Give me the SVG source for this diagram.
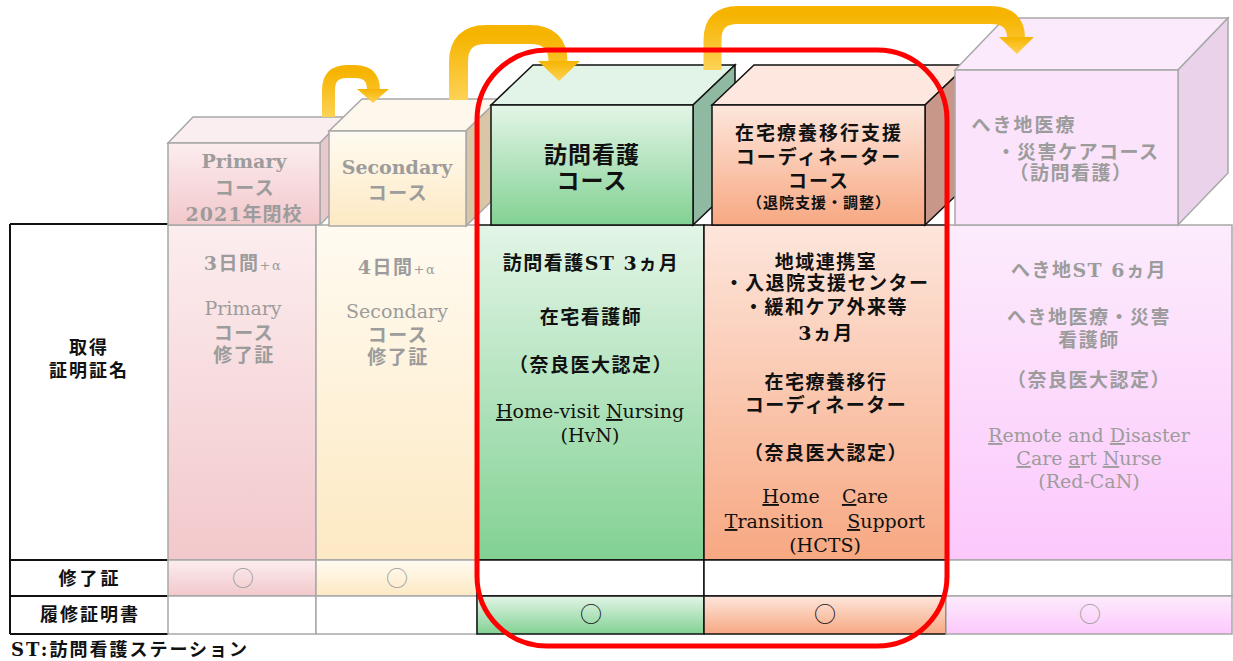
<svg xmlns="http://www.w3.org/2000/svg" width="1233" height="661" viewBox="0 0 1233 661">
<defs>
<linearGradient id="gPink" x1="0" y1="0" x2="0" y2="1"><stop offset="0" stop-color="#fcedef"/><stop offset="1" stop-color="#f2c8cb"/></linearGradient>
<linearGradient id="gCream" x1="0" y1="0" x2="0" y2="1"><stop offset="0" stop-color="#fffbf1"/><stop offset="1" stop-color="#fde9c3"/></linearGradient>
<linearGradient id="gGreen" x1="0" y1="0" x2="0" y2="1"><stop offset="0" stop-color="#e3f5e7"/><stop offset="1" stop-color="#82d193"/></linearGradient>
<linearGradient id="gOrange" x1="0" y1="0" x2="0" y2="1"><stop offset="0" stop-color="#fde6dc"/><stop offset="1" stop-color="#f7a882"/></linearGradient>
<linearGradient id="gMag" x1="0" y1="0" x2="0" y2="1"><stop offset="0" stop-color="#fcecfc"/><stop offset="1" stop-color="#fcc8fc"/></linearGradient>
<linearGradient id="gArrow" x1="0" y1="0" x2="0" y2="1"><stop offset="0" stop-color="#f6b400"/><stop offset="1" stop-color="#fdd255"/></linearGradient>
<style>
text{font-family:"DejaVu Serif","Noto Sans CJK JP",serif;text-anchor:middle}
.jp{font-family:"Noto Sans CJK JP",sans-serif;font-weight:700}
.mix{font-family:"DejaVu Serif","Noto Sans CJK JP",serif;font-weight:700}
.lat{font-family:"DejaVu Serif",serif;font-weight:400;letter-spacing:0}
.gry{fill:#9c9c9c}
.blk{fill:#111}
.b19{font-size:19px;letter-spacing:1.5px}
.ul{text-decoration:underline}
.circ{font-family:"Noto Sans CJK JP",sans-serif;font-size:22px;font-weight:400}
.gs{stroke:#a8a8a8;stroke-width:1.5}
.ks{stroke:#111;stroke-width:1.5}
.arrow{fill:none;stroke:url(#gArrow);stroke-linejoin:round}
</style>
</defs>
<rect width="1233" height="661" fill="#fff"/>

<g id="label-col">
<rect x="10" y="224" width="158" height="410" fill="#fff"/>
<path d="M10,224 H168 M10,224 V634 M10,560 H168 M10,596 H168 M10,634 H168" stroke="#111" stroke-width="2" fill="none"/>
<text class="jp blk" font-size="18" letter-spacing="2"><tspan x="89" y="354">取得</tspan><tspan x="89" y="377">証明証名</tspan></text>
<text class="jp blk" font-size="18" letter-spacing="3" x="90" y="585">修了証</text>
<text class="jp blk" font-size="18" letter-spacing="2" x="90" y="621">履修証明書</text>
</g>

<g id="col-primary">
<rect x="168" y="225" width="148" height="335" fill="url(#gPink)" class="gs"/>
<rect x="168" y="560" width="148" height="36" fill="url(#gPink)" class="gs"/>
<rect x="168" y="596" width="148" height="38" fill="#fff" class="gs"/>
<polygon points="168,143 193,117 345,117 320,143" fill="#fbeef0" class="gs"/>
<polygon points="320,143 345,117 345,199 320,225" fill="#e9c9cc" class="gs"/>
<rect x="168" y="143" width="152" height="82" fill="url(#gPink)" class="gs"/>
<text class="mix gry" font-size="19"><tspan x="244" y="168">Primary</tspan><tspan x="245" y="195" letter-spacing="1.5">コース</tspan><tspan x="244" y="221" letter-spacing="1">2021年閉校</tspan></text>
<text class="mix gry b19" x="243" y="270">3日間<tspan font-size="13" font-weight="400">+α</tspan></text>
<text class="jp gry b19"><tspan class="lat" x="243" y="315">Primary</tspan><tspan x="244" y="340">コース</tspan><tspan x="244" y="362">修了証</tspan></text>
<text class="circ gry" x="243" y="586">○</text>
</g>

<g id="col-secondary">
<rect x="316" y="225" width="161" height="335" fill="url(#gCream)" class="gs"/>
<rect x="316" y="560" width="161" height="36" fill="url(#gCream)" class="gs"/>
<rect x="316" y="596" width="161" height="38" fill="#fff" class="gs"/>
<polygon points="329,131 362,99 499,99 466,131" fill="#fef8ec" class="gs"/>
<polygon points="466,131 499,99 499,194 466,226" fill="#d8c6a6" class="gs"/>
<rect x="329" y="131" width="137" height="95" fill="url(#gCream)" class="gs"/>
<text class="mix gry" font-size="19"><tspan x="397" y="174">Secondary</tspan><tspan x="398" y="200" letter-spacing="1.5">コース</tspan></text>
<text class="mix gry b19" x="397" y="274">4日間<tspan font-size="13" font-weight="400">+α</tspan></text>
<text class="jp gry b19"><tspan class="lat" x="397" y="318">Secondary</tspan><tspan x="398" y="342">コース</tspan><tspan x="398" y="364">修了証</tspan></text>
<text class="circ gry" x="397" y="586">○</text>
</g>

<g id="col-homevisit">
<rect x="477" y="225" width="227" height="335" fill="url(#gGreen)" class="ks"/>
<rect x="477" y="560" width="227" height="36" fill="#fff" class="ks"/>
<rect x="477" y="596" width="227" height="38" fill="url(#gGreen)" class="ks"/>
<polygon points="491,105 533,65 735,65 693,105" fill="#e2f4e7" class="ks"/>
<polygon points="693,105 735,65 735,185 693,225" fill="#8fb9a0" class="ks"/>
<rect x="491" y="105" width="202" height="120" fill="url(#gGreen)" class="ks"/>
<text class="jp blk" font-size="23" letter-spacing="1"><tspan x="592" y="163">訪問看護</tspan><tspan x="592" y="189">コース</tspan></text>
<text class="mix blk b19" x="591" y="270">訪問看護ST 3ヵ月</text>
<text class="jp blk b19" x="591" y="324">在宅看護師</text>
<text class="jp blk b19" x="591" y="372">（奈良医大認定）</text>
<text class="lat blk" font-size="19"><tspan x="590" y="418"><tspan class="ul">H</tspan>ome-visit <tspan class="ul">N</tspan>ursing</tspan><tspan x="590" y="442">(HvN)</tspan></text>
<text class="circ blk" x="591" y="622">○</text>
</g>

<g id="col-transition">
<rect x="704" y="225" width="242" height="335" fill="url(#gOrange)" class="ks"/>
<rect x="704" y="560" width="242" height="36" fill="#fff" class="ks"/>
<rect x="704" y="596" width="242" height="38" fill="url(#gOrange)" class="ks"/>
<polygon points="712,105 754,65 967,65 925,105" fill="#fde7de" class="ks"/>
<polygon points="925,105 967,65 967,185 925,225" fill="#c9968a" class="ks"/>
<rect x="712" y="105" width="213" height="120" fill="url(#gOrange)" class="ks"/>
<text class="jp blk" font-size="19" letter-spacing="2"><tspan x="819" y="140">在宅療養移行支援</tspan><tspan x="819" y="164">コーディネーター</tspan><tspan x="819" y="188">コース</tspan><tspan x="819" y="208" font-size="15" letter-spacing="1">（退院支援・調整）</tspan></text>
<text class="jp blk b19"><tspan x="826" y="269">地域連携室</tspan><tspan x="827" y="290">・入退院支援センター</tspan><tspan x="826" y="314">・緩和ケア外来等</tspan><tspan class="mix" x="826" y="340">3ヵ月</tspan></text>
<text class="jp blk b19"><tspan x="826" y="389">在宅療養移行</tspan><tspan x="826" y="412">コーディネーター</tspan></text>
<text class="jp blk b19" x="826" y="460">（奈良医大認定）</text>
<text class="lat blk" font-size="19"><tspan x="791" y="503"><tspan class="ul">H</tspan>ome</tspan><tspan x="865" y="503"><tspan class="ul">C</tspan>are</tspan><tspan x="774" y="528"><tspan class="ul">T</tspan>ransition</tspan><tspan x="886" y="528"><tspan class="ul">S</tspan>upport</tspan><tspan x="825" y="552">(HCTS)</tspan></text>
<text class="circ blk" x="825" y="622">○</text>
</g>

<g id="col-remote">
<rect x="946" y="225" width="286" height="335" fill="url(#gMag)" class="gs"/>
<rect x="946" y="560" width="286" height="36" fill="#fff" class="gs"/>
<rect x="946" y="596" width="286" height="38" fill="url(#gMag)" class="gs"/>
<polygon points="955,70 1005,18 1228,18 1178,70" fill="#fbeafb" class="gs"/>
<polygon points="1178,70 1228,18 1228,173 1178,225" fill="#ead2ea" class="gs"/>
<rect x="955" y="70" width="223" height="155" fill="#fbe3fb" class="gs"/>
<text class="jp gry" font-size="19" letter-spacing="1.5"><tspan x="1024" y="132" letter-spacing="2">へき地医療</tspan><tspan x="1078" y="159">・災害ケアコース</tspan><tspan x="1071" y="180">（訪問看護）</tspan></text>
<text class="mix gry b19" x="1089" y="277">へき地ST 6ヵ月</text>
<text class="jp gry b19"><tspan x="1089" y="324">へき地医療・災害</tspan><tspan x="1089" y="347">看護師</tspan></text>
<text class="jp gry b19" x="1089" y="387">（奈良医大認定）</text>
<text class="lat gry" font-size="19"><tspan x="1089" y="442"><tspan class="ul">R</tspan>emote and <tspan class="ul">D</tspan>isaster</tspan><tspan x="1089" y="465"><tspan class="ul">C</tspan>are <tspan class="ul">a</tspan>rt <tspan class="ul">N</tspan>urse</tspan><tspan x="1089" y="488">(Red-CaN)</tspan></text>
<text class="circ gry" x="1090" y="622">○</text>
</g>

<g id="connectors">
<path class="arrow" stroke-width="13" d="M328.5,117 V90 Q328.5,71.5 347,71.5 H355 Q373.5,71.5 373.5,90"/>
<polygon points="357,89 389,89 373,103" fill="url(#gArrow)"/>
<path class="arrow" stroke-width="19" d="M458.5,100 V62 Q458.5,34.5 486,34.5 H530 Q558,34.5 558,62"/>
<polygon points="538,61 580,61 559,81" fill="url(#gArrow)"/>
<path class="arrow" stroke-width="18" d="M712.5,70 V40 Q712.5,15 738,15 H990 Q1016,15 1016,38"/>
<polygon points="999,37 1034,37 1017,54" fill="url(#gArrow)"/>
</g>

<g id="highlight">
<rect x="477" y="50" width="470" height="596" rx="70" ry="70" fill="none" stroke="#ff0000" stroke-width="5"/>
</g>

<g id="footnote">
<text class="mix blk" font-size="18" letter-spacing="2" style="text-anchor:start" x="11" y="656">ST:訪問看護ステーション</text>
</g>
</svg>
